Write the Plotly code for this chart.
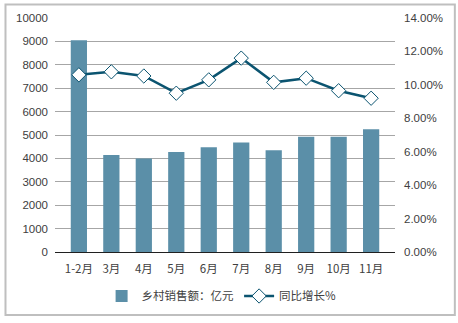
import plotly.graph_objects as go

months = ["1-2月", "3月", "4月", "5月", "6月", "7月", "8月", "9月", "10月", "11月"]
sales = [9050, 4150, 4000, 4270, 4480, 4680, 4350, 4930, 4930, 5250]
growth = [10.6, 10.78, 10.53, 9.5, 10.3, 11.6, 10.15, 10.4, 9.65, 9.2]

left_ticks = list(range(0, 10001, 1000))
left_labels = [str(v) for v in left_ticks]
right_ticks = [0, 2, 4, 6, 8, 10, 12, 14]
right_labels = [f"{v:.2f}%" for v in right_ticks]

bar_color = "#5B8FA8"
line_color = "#0B5470"
text_color = "#404040"
font_family = "Liberation Sans, Arial, Noto Sans CJK SC, sans-serif"

fig = go.Figure()
fig.add_trace(go.Bar(
    x=months, y=sales, name="乡村销售额：亿元",
    marker=dict(color=bar_color, line=dict(width=0)),
))
fig.add_trace(go.Scatter(
    x=months, y=growth, name="同比增长%", yaxis="y2",
    mode="lines+markers",
    line=dict(color=line_color, width=2.5),
    marker=dict(symbol="diamond", size=11, color="white",
                line=dict(color=line_color, width=1)),
))

fig.update_layout(
    width=458, height=323,
    margin=dict(l=55, r=63, t=18, b=71),
    paper_bgcolor="white", plot_bgcolor="white",
    font=dict(family=font_family, size=11.5, color=text_color),
    bargap=0.5,
    showlegend=True,
    legend=dict(orientation="h", x=0.49, xanchor="center", y=-0.188, yanchor="middle",
                font=dict(family="Noto Sans CJK SC, sans-serif", size=11.5, color=text_color),
                itemwidth=30, tracegroupgap=0),
    xaxis=dict(type="category", showgrid=False, ticks="", showline=True,
               linecolor="#202020", linewidth=1, ticklabelstandoff=6,
               tickfont=dict(size=11.5, family="Noto Sans CJK SC, Liberation Sans, sans-serif")),
    yaxis=dict(range=[0, 10000], tickvals=left_ticks, ticktext=left_labels, showgrid=True,
               gridcolor="#A6A6A6", gridwidth=1, zeroline=False, ticks="",
               ticklabelstandoff=6, tickfont=dict(size=11.5)),
    yaxis2=dict(overlaying="y", side="right", range=[0, 14], tickvals=right_ticks,
                ticktext=right_labels, showgrid=False, zeroline=False, ticks="",
                ticklabelstandoff=8, tickfont=dict(size=11.5)),
    shapes=[dict(type="rect", xref="paper", yref="paper",
                 x0=-0.1456, x1=1.176, y0=-0.269, y1=1.0577,
                 line=dict(color="#BFBFBF", width=2), layer="below")],
)

fig.write_html("out.html")
